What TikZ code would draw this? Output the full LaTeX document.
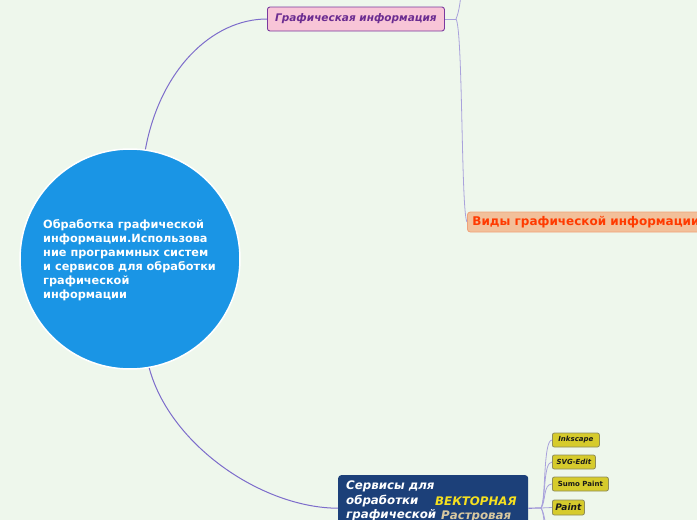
\documentclass[tikz,border=0pt]{standalone}
\usepackage{fontspec}
\setmainfont{DejaVu Sans}
\definecolor{bgc}{HTML}{EEF7EC}
\definecolor{circc}{HTML}{1A95E5}
\definecolor{pinkf}{HTML}{F8C5D7}
\definecolor{pinkd}{HTML}{7A3A9E}
\definecolor{pinkt}{HTML}{6B2C91}
\definecolor{orf}{HTML}{F2C09A}
\definecolor{ord}{HTML}{F0A27A}
\definecolor{ort}{HTML}{FF3A00}
\definecolor{bluef}{HTML}{1C4079}
\definecolor{vekt}{HTML}{F5E020}
\definecolor{rast}{HTML}{D8C8A0}
\definecolor{yelf}{HTML}{D6CB2C}
\definecolor{yeld}{HTML}{8E8C5A}
\definecolor{conn}{HTML}{7D6DCB}
\definecolor{connl}{HTML}{A9A2DC}
\begin{document}
\begin{tikzpicture}[x=1pt,y=-1pt,
  mainconn/.style={draw=conn, line width=1pt},
  lightconn/.style={draw=connl, line width=0.8pt},
  pinkbox/.style={draw=pinkd, fill=pinkf, rounded corners=2.5pt, line width=0.9pt, text=pinkt,
    font=\bfseries\itshape\fontsize{10.5}{12}\selectfont, minimum width=177pt, minimum height=24pt, inner sep=0pt},
  orbox/.style={draw=ord, fill=orf, rounded corners=3pt, line width=0.8pt, text=ort,
    font=\bfseries\fontsize{12}{14}\selectfont, minimum height=20pt, inner xsep=5pt, inner ysep=0pt},
  bluebox/.style={fill=bluef, rounded corners=3pt, minimum width=190pt, minimum height=66pt, inner sep=0pt},
  yelbox/.style={draw=yeld, fill=yelf, rounded corners=2pt, line width=0.8pt, text=black!90,
    font=\bfseries\itshape\fontsize{7}{8}\selectfont, minimum height=14pt, inner sep=0pt}
]
\fill[bgc] (0,0) rectangle (697,520);
\useasboundingbox (0,0) rectangle (697,520);
\clip (0,0) rectangle (697,520);

% central circle
\node[circle, fill=circc, draw=white, line width=1.5pt, minimum size=220pt, inner sep=0pt] (c) at (130,259) {};
\node[anchor=north west, text=white, font=\bfseries\fontsize{11.3}{14.1}\selectfont, align=left, inner sep=0pt] (ct) at (43,219)
  {Обработка графической\\информации.Использова\\ние программных систем\\и сервисов для обработки\\графической\\информации};

% pink node
\node[pinkbox, anchor=west] (g) at (267,19) {Графическая информация};
% orange node
\node[orbox, anchor=west] (o) at (467,222) {Виды графической информации};
% blue node
\node[bluebox, anchor=north west] (s) at (338,475) {};
\node[anchor=north west, inner sep=0pt, text=white, align=left, font=\bfseries\itshape\fontsize{11.8}{14.6}\selectfont] (st) at (346,480.5)
  {Сервисы для\\обработки\\графической};
\node[anchor=west, inner sep=0pt, text=vekt, font=\bfseries\itshape\fontsize{11.8}{14}\selectfont] (vk) at (435,501.5) {ВЕКТОРНАЯ};
\node[anchor=west, inner sep=0pt, text=rast, font=\bfseries\itshape\fontsize{11.8}{14}\selectfont] (rs) at (441,516) {Растровая};

% yellow nodes
\node[yelbox, anchor=west, minimum width=47pt] (ink) at (552,440) {Inkscape};
\node[yelbox, anchor=west, minimum width=43pt] (svg) at (552,462) {SVG-Edit};
\node[yelbox, anchor=west, minimum width=56pt, font=\bfseries\fontsize{7}{8}\selectfont] (sumo) at (552,484) {Sumo Paint};
\node[yelbox, anchor=west, minimum width=32pt, minimum height=15pt, font=\bfseries\itshape\fontsize{9}{10}\selectfont] (paint) at (552,507.5) {Paint};

% coordinates
\coordinate (gj) at (456,19);
\coordinate (up) at (462,-20);
\coordinate (j) at (541,508);
\coordinate (d1) at (552,532);
\coordinate (d2) at (552,556);

% connectors
\draw[mainconn] (c.82) .. controls (160,70) and (212,19) .. (g.west);
\draw[mainconn] (c.-80) .. controls (170,445) and (262,508) .. (s.west);
\draw[lightconn] (g.east) -- (gj);
\draw[lightconn] (gj) .. controls (459,12) and (461,0) .. (up);
\draw[lightconn] (gj) .. controls (463,30) and (461,212) .. (o.west);
\draw[conn!80, line width=1.2pt] (s.east) -- (j);
\draw[lightconn] (j) .. controls (546,500) and (543,440) .. (ink.west);
\draw[lightconn] (j) .. controls (546,500) and (543,462) .. (svg.west);
\draw[lightconn] (j) .. controls (546,502) and (543,484) .. (sumo.west);
\draw[lightconn] (j) -- (paint.west);
\draw[lightconn] (j) .. controls (546,515) and (544,532) .. (d1);
\draw[lightconn] (j) .. controls (546,515) and (544,556) .. (d2);
\end{tikzpicture}
\end{document}
